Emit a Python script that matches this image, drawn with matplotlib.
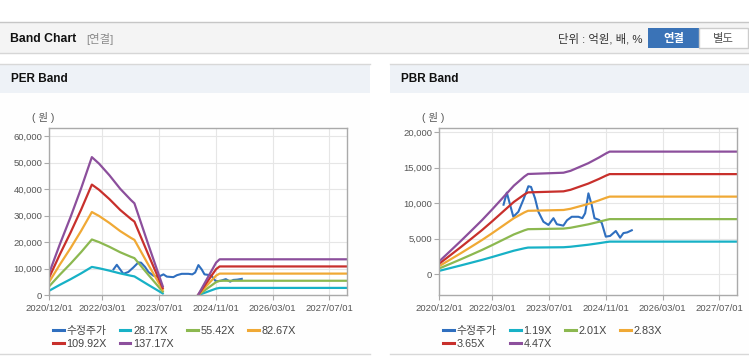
import numpy as np
import matplotlib.pyplot as plt
from matplotlib.patches import Rectangle
from matplotlib.lines import Line2D

W, H = 749, 364

# ---- data ----
price_dates = ['2022-06-05', '2022-07-03', '2022-08-28', '2022-10-10', '2022-11-22',
               '2023-01-04', '2023-01-27', '2023-03-02', '2023-03-31', '2023-05-13',
               '2023-06-25', '2023-08-07', '2023-09-05', '2023-10-31', '2023-12-01',
               '2024-01-11', '2024-03-08', '2024-04-11', '2024-05-05', '2024-06-02',
               '2024-07-01', '2024-07-24', '2024-09-02', '2024-09-25', '2024-10-29',
               '2024-12-05', '2025-01-23', '2025-03-01', '2025-03-29', '2025-05-01',
               '2025-06-09']
price = [9800, 11500, 8100, 8800, 10500,
         12400, 12300, 10700, 8800, 7400,
         6950, 7900, 7050, 6850, 7600,
         8100, 8100, 7900, 8600, 11400,
         9700, 7900, 7650, 7200, 5300,
         5400, 6100, 5150, 5800, 5900,
         6200]

# EPS used by the PER band (nan = negative earnings, no band drawn)
eps_dates = ['2020-12-01', '2021-03-01', '2021-06-01', '2021-09-01', '2021-12-01',
             '2022-02-01', '2022-05-01', '2022-08-01', '2022-11-01', '2022-12-01',
             '2023-04-01', '2023-08-01', '2023-09-01',
             '2024-06-01', '2024-09-01', '2024-11-01', '2024-12-01', '2027-12-01']
eps = [62, 140, 215, 295, 380,
       362, 330, 293, 262, 253,
       138, 25, np.nan,
       2, 55, 90, 99, 99]
per_mult = [28.17, 55.42, 82.67, 109.92, 137.17]

# BPS used by the PBR band
bps_dates = ['2020-12-01', '2021-03-01', '2021-06-01', '2021-09-01', '2021-12-01',
             '2022-03-01', '2022-06-01', '2022-09-01', '2022-12-01', '2023-01-01',
             '2023-11-01', '2024-01-01', '2024-06-01', '2024-09-01', '2024-11-01',
             '2024-12-01', '2027-12-01']
bps = [410, 720, 1040, 1370, 1700,
       2050, 2420, 2790, 3080, 3160,
       3200, 3260, 3500, 3680, 3810,
       3865, 3865]
pbr_mult = [1.19, 2.01, 2.83, 3.65, 4.47]

tick_dates = ['2020-12-01', '2022-03-01', '2023-07-01', '2024-11-01', '2026-03-01', '2027-07-01']
tick_labels = ['2020/12/01', '2022/03/01', '2023/07/01', '2024/11/01', '2026/03/01', '2027/07/01']

price_color = '#2f6fbf'
band_colors = ['#17b1c6', '#8cb850', '#f0a935', '#c8302c', '#8c4f9c']

FONT = ['Liberation Sans', 'Noto Sans CJK KR']
plt.rcParams['font.family'] = FONT


def fx(x):
    return x / W


def fy(y):
    return 1 - y / H


fig = plt.figure(figsize=(W / 100, H / 100), dpi=100)
fig.patch.set_facecolor('white')


def rect(x0, y0, x1, y1, fc, ec='none'):
    fig.patches.append(Rectangle((fx(x0), fy(y1)), (x1 - x0) / W, (y1 - y0) / H,
                                 transform=fig.transFigure, fc=fc, ec=ec, lw=1, zorder=-3))


def hline(x0, x1, y, color):
    fig.add_artist(Line2D([fx(x0), fx(x1)], [fy(y), fy(y)], transform=fig.transFigure,
                          color=color, lw=1, zorder=-2))


# top header
rect(0, 22, W, 53, '#f4f4f4')
hline(0, W, 22, '#c6c6c6')
hline(0, W, 53, '#d6d6d6')
fig.text(fx(10), fy(39), 'Band Chart', fontsize=8.8, fontweight='bold', color='#111111',
         va='center', ha='left')
fig.text(fx(86), fy(39), '[연결]', fontsize=8.2, color='#8a8a8a', va='center', ha='left')
fig.text(fx(642), fy(39), '단위 : 억원, 배, %', fontsize=8.2, color='#333333', va='center', ha='right')
rect(648, 28, 699, 48, '#3a73b7')
rect(699, 28, 748, 48, 'white', '#cccccc')
fig.text(fx(673.5), fy(38.5), '연결', fontsize=8.2, fontweight='bold', color='white',
         va='center', ha='center')
fig.text(fx(723.5), fy(38.5), '별도', fontsize=8.2, color='#555555', va='center', ha='center')

# panels
for x0, x1, title in [(0, 370, 'PER Band'), (390, 749, 'PBR Band')]:
    rect(x0, 64, x1, 354, '#fefefe')
    rect(x0, 64, x1, 93, '#eef2f7')
    hline(x0, x1, 64, '#d8d8d8')
    hline(x0, x1, 354, '#d8d8d8')
    fig.text(fx(x0 + 11), fy(79.5), title, fontsize=8.5, fontweight='bold', color='#111111',
             va='center', ha='left')

xt = np.array(tick_dates, dtype='datetime64[D]')
xmin = np.datetime64('2020-12-01')
xmax = np.datetime64('2027-12-01')


def band_chart(left, base_dates, base, mults, ylim, yticks, legend_x):
    ax = fig.add_axes([fx(left), fy(295.3), 298 / W, 167 / H])
    ax.set_facecolor('white')
    d = np.array(base_dates, dtype='datetime64[D]')
    b = np.array(base, dtype=float)
    lines = []
    l, = ax.plot(np.array(price_dates, dtype='datetime64[D]'), price, color=price_color,
                 lw=1.5, label='수정주가')
    lines.append(l)
    for m, c in zip(mults, band_colors):
        l, = ax.plot(d, b * m, color=c, lw=1.6, label=f'{m:.2f}X')
        lines.append(l)
    ax.set_xlim(xmin, xmax)
    ax.set_ylim(*ylim)
    ax.set_xticks(xt)
    ax.set_xticklabels(tick_labels)
    ax.set_yticks(yticks)
    ax.set_yticklabels([f'{v:,}' for v in yticks])
    ax.grid(True, color='#e6e6e6', lw=0.8)
    ax.set_axisbelow(True)
    for s in ax.spines.values():
        s.set_color('#aaaaaa')
        s.set_linewidth(1)
    ax.tick_params(axis='both', colors='#aaaaaa', labelcolor='#555555', labelsize=6.8, length=3.5)
    ax.tick_params(axis='y', pad=1.5)
    ax.tick_params(axis='x', pad=3)
    fig.text(fx(left - 6), fy(118), '( 원 )', fontsize=7.5, color='#555555', ha='center', va='center')
    # legend: column-wise fill -> reorder so rows read like the reference
    order = [0, 4, 1, 5, 2, 3]
    leg = ax.legend([lines[i] for i in order], [lines[i].get_label() for i in order],
                    ncol=4, loc='upper left', bbox_to_anchor=(fx(legend_x), fy(326)),
                    bbox_transform=fig.transFigure, frameon=False, fontsize=7.8,
                    handlelength=1.0, handletextpad=0.25, columnspacing=1.2,
                    labelspacing=0.3, borderpad=0, borderaxespad=0)
    for t in leg.get_texts():
        t.set_color('#444444')
    for h in leg.legend_handles:
        h.set_linewidth(2.2)
    return ax


band_chart(49.3, eps_dates, eps, per_mult, (0, 63000),
           [0, 10000, 20000, 30000, 40000, 50000, 60000], 52.7)
band_chart(439.3, bps_dates, bps, pbr_mult, (-2960, 20560),
           [0, 5000, 10000, 15000, 20000], 443.3)

fig.savefig('out.png', dpi=100)
